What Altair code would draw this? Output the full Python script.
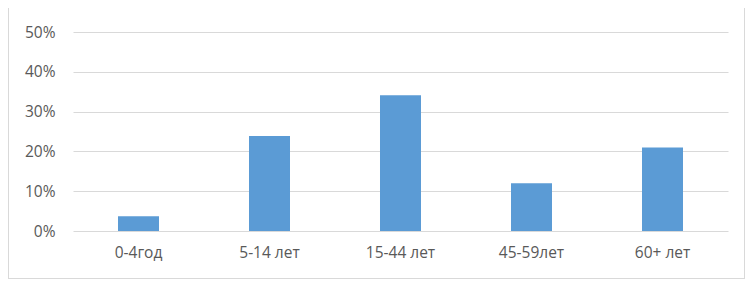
import altair as alt
import pandas as pd

categories = ["0-4год", "5-14 лет", "15-44 лет", "45-59лет", "60+ лет"]
values = [0.037, 0.239, 0.341, 0.120, 0.210]
y_ticks = [0, 0.1, 0.2, 0.3, 0.4, 0.5]

df = pd.DataFrame({"cat": categories, "val": values})

FONT = "Open Sans"
LABEL_COLOR = "#595959"
GRID = "#D9D9D9"

bars = alt.Chart(df).mark_bar(color="#5B9BD5").encode(
    x=alt.X(
        "cat:N",
        sort=categories,
        title=None,
        scale=alt.Scale(paddingInner=0.687, paddingOuter=0.3435),
        axis=alt.Axis(
            labelAngle=0, domain=False, ticks=False, labelPadding=14,
            labelFont=FONT, labelFontSize=15.5, labelColor=LABEL_COLOR, grid=False,
        ),
    ),
    y=alt.Y(
        "val:Q",
        title=None,
        scale=alt.Scale(domain=[0, 0.5], nice=False),
        axis=alt.Axis(
            values=y_ticks, format=".0%", domain=False, ticks=False, tickSize=0,
            labelPadding=18, labelFont=FONT, labelFontSize=15.5, labelColor=LABEL_COLOR,
            grid=True, gridColor=GRID, gridWidth=1,
        ),
    ),
)

frame_color = "#D9D9D9"
left = alt.Chart(df).mark_rule(color=frame_color).encode(
    x=alt.value(-64.5), y=alt.value(-24), y2=alt.value(246.5)
)
right = alt.Chart(df).mark_rule(color=frame_color).encode(
    x=alt.value(671.5), y=alt.value(-24), y2=alt.value(246.5)
)
bottom = alt.Chart(df).mark_rule(color=frame_color).encode(
    x=alt.value(-64.5), x2=alt.value(671.5), y=alt.value(246.5)
)

chart = alt.layer(bars, left, right, bottom).properties(
    width=655,
    height=199,
    autosize=alt.AutoSizeParams(type="none"),
    padding={"left": 65, "top": 24, "right": 17, "bottom": 48},
).configure_view(stroke=None)

chart.save("out.html", embed_options={"renderer": "svg", "actions": False})
